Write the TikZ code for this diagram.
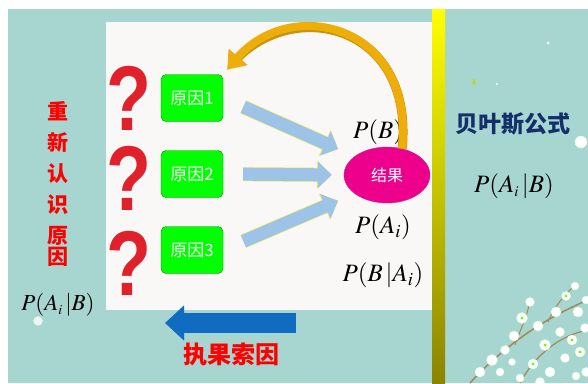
\documentclass[tikz,border=0pt]{standalone}
\usepackage{mathptmx}
\usepackage{fontspec}
\setmainfont{Liberation Serif}
\newfontfamily\cjk{Noto Sans CJK SC}
\newfontfamily\qfont{Liberation Sans}
\usetikzlibrary{shapes.geometric,arrows.meta,positioning}

\definecolor{bg}{HTML}{A7D5D0}
\definecolor{panel}{HTML}{FAF8F6}
\definecolor{flowblue}{HTML}{9DC3E6}
\definecolor{flowedge}{HTML}{F4F07A}
\definecolor{backblue}{HTML}{0F6CC0}
\definecolor{goldarc}{HTML}{EDAE0A}
\definecolor{goldedge}{HTML}{C9920C}
\definecolor{navy}{HTML}{14306B}
\definecolor{qred}{HTML}{E0202A}
\definecolor{twig}{HTML}{A08A5A}

\tikzset{
  cause/.style={draw=green!55!black, fill=green, rounded corners=5pt,
    minimum width=62pt, minimum height=47pt, text=white,
    font=\cjk\fontsize{17}{17}\selectfont},
  qmark/.style={text=qred, font=\qfont\bfseries\fontsize{92}{92}\selectfont, xscale=.8,
    inner sep=0pt, text height=66pt, text depth=0pt},
  flow/.style={line width=13pt, flowblue, -{Triangle[width=26pt,length=14pt]},
    preaction={draw=flowedge, line width=14.5pt, -{Triangle[width=28pt,length=15pt]}}},
  formula/.style={font=\fontsize{25}{25}\selectfont},
  redtext/.style={text=red, font=\cjk\bfseries\fontsize{#1}{#1}\selectfont},
  blossom/.style={fill=white, draw=white!85!green},
}

\begin{document}
\begin{tikzpicture}[x=1pt, y=-1pt, >=latex]
\useasboundingbox (0,0) rectangle (588,383);
% background and panels
\fill[white] (0,0) rectangle (588,383);
\fill[bg] (8,9) rectangle (588,383);
\fill[panel] (106,22) rectangle (432,310);
\shade[top color=yellow, bottom color={rgb,255:red,138;green,132;blue,0}] (432,9) rectangle (445,383);
\fill[blossom, opacity=.8] (38,321) circle (4.5);

% causes
\node[qmark] (q1) at (129,97) {?};
\node[qmark] (q2) at (129,177) {?};
\node[qmark] (q3) at (129,262) {?};
\node[cause] (c1) at (192,98) {原因1};
\node[cause] (c2) at (192,174) {原因2};
\node[cause] (c3) at (192,250) {原因3};

% result
\node[ellipse, fill=magenta, draw=magenta!80!black, minimum width=86pt, minimum height=56pt,
  text=white, font=\cjk\fontsize{16}{16}\selectfont] (res) at (387,175) {结果};
\node[formula] (pB) at (378,132) {$P(B)$};
\node[formula] (pA) at (383,227) {$P(A_i)$};
\node[formula] (pBA) at (383,275) {$P(B\,|A_i)$};

\draw[flow, shorten <=22pt, shorten >=18pt] (c1.east) -- (res.150);
\draw[flow, shorten <=20pt, shorten >=12pt] (c2.east) -- (res.west);
\draw[flow, shorten <=22pt, shorten >=18pt] (c3.east) -- (res.210);

% back from the result to the causes
\draw[line width=8pt, goldarc, shorten >=6pt, -{Triangle[width=24pt,length=17pt]},
  preaction={draw=goldedge, line width=9pt, shorten >=14pt, -}]
  (res.60) .. controls +(12,-126) and +(67,-78) .. (c1.north east);

\coordinate (bk1) at (296,323);
\coordinate (bk2) at (165,323);
\draw[line width=20pt, backblue, -{Triangle[width=34pt,length=19pt]}] (bk1) -- (bk2);
\node[redtext=24] (tag) at (231,354) {执果索因};

% left column
\node[redtext=21, align=center, text width=24pt] (rethink) at (58,184)
  {\baselineskip=31pt 重\\新\\认\\识\\原\\因};
\node[font=\fontsize{23}{23}\selectfont] (postL) at (58,305) {$P(A_{\scriptscriptstyle i}\,|B)$};

% right column
\node[text=navy, font=\cjk\bfseries\fontsize{23}{23}\selectfont] (bayes) at (513,124) {贝叶斯公式};
\node[formula] (postR) at (514,186) {$P(A_{\scriptscriptstyle i}\,|B)$};

% blossoms
\draw[twig, line width=1.5pt] (470,383) .. controls (500,350) and (540,320) .. (588,300);
\draw[twig, line width=1.2pt] (520,383) .. controls (535,355) and (560,335) .. (588,330);
\draw[twig, line width=1pt] (515,345) .. controls (520,330) and (528,315) .. (530,300);
\draw[twig, line width=1pt] (548,322) .. controls (555,305) and (565,295) .. (575,285);
\foreach \x/\y/\r in {480/372/5,492/360/5.5,505/350/4.5,500/372/4,514/336/5,522/318/5.5,
  530/302/4.5,538/326/5,545/345/5.5,556/312/5,566/296/4.5,575/286/4,578/312/5,
  586/300/4,560/332/4.5,572/340/5,585/328/4.5,533/364/5,550/372/5,565/358/4.5,
  580/352/5,586/372/4.5,520/378/4,540/382/4.5,576/376/4,512/362/3.5}
  \fill[blossom] (\x,\y) circle (\r);
\foreach \x/\y in {522/318,545/345,566/296,572/340,533/364,580/352}
  \fill[green!60!yellow] (\x,\y) circle (1.6);
\fill[blossom] (581,142) circle (6);
\fill[white] (548,43) circle (1.5);
\fill[white] (497,84) circle (1.2);
\fill[yellow!70!green] (474,82) ellipse (1.5 and 3);
\end{tikzpicture}
\end{document}
